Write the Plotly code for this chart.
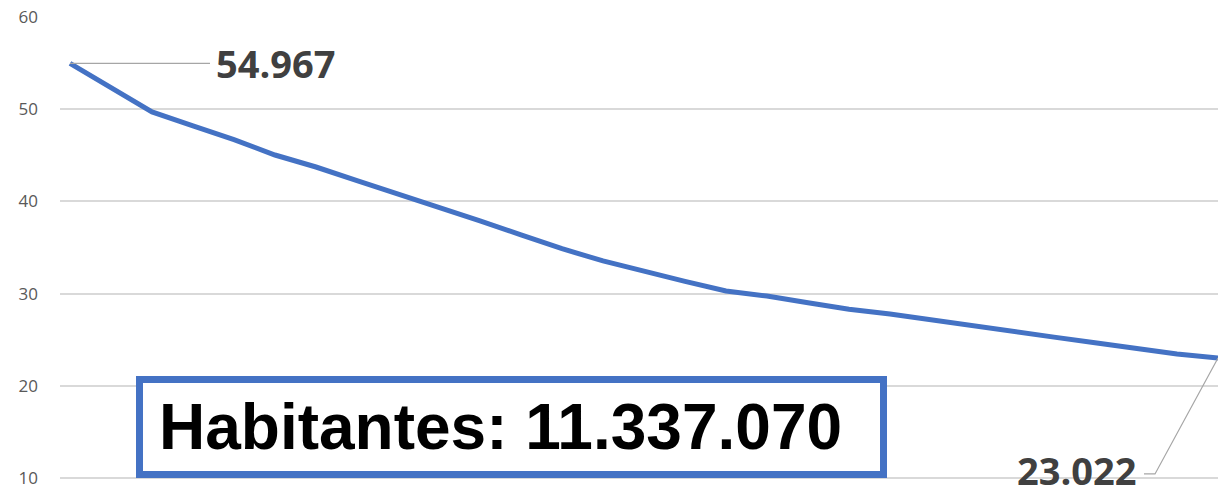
import plotly.graph_objects as go

# Data
periods = list(range(1, 30))
values = [54.967, 52.34, 49.70, 48.19, 46.69, 45.03, 43.73, 42.25, 40.83, 39.36,
          37.90, 36.36, 34.87, 33.54, 32.40, 31.33, 30.28, 29.73, 29.01, 28.30,
          27.79, 27.13, 26.49, 25.88, 25.28, 24.67, 24.07, 23.46, 23.022]
first_label = "54.967"
last_label = "23.022"
box_text = "Habitantes: 11.337.070"
y_ticks = [10, 20, 30, 40, 50, 60]

W, H = 1218, 495
ML, MR, MT, MB = 60, 0, 17, 3
pw = W - ML - MR
ph = H - MT - MB
px_per_unit = 461 / 50
ylo = 60 - ph / px_per_unit
xstep = 41
x_lo = periods[0] - (70 - ML) / xstep
x_hi = periods[-1]


def px(xp):
    return (xp - ML) / pw


def py(yp):
    return (H - MB - yp) / ph


fig = go.Figure()
fig.add_trace(go.Scatter(
    x=periods, y=values, mode="lines",
    line=dict(color="#4472C4", width=5),
    hoverinfo="skip", showlegend=False,
))

# leader lines anchored at first/last points
fig.add_shape(type="path", xref="x", yref="y", xsizemode="pixel", ysizemode="pixel",
              xanchor=periods[0], yanchor=values[0],
              path="M0,0 L140,0", line=dict(color="#A6A6A6", width=1.2))
fig.add_shape(type="path", xref="x", yref="y", xsizemode="pixel", ysizemode="pixel",
              xanchor=periods[-1], yanchor=values[-1],
              path="M0,0 L-63,-116 L-74,-116", line=dict(color="#A6A6A6", width=1.2))

fig.add_annotation(x=periods[0], y=values[0], xref="x", yref="y", text=first_label,
                   showarrow=False, xanchor="left", yanchor="middle", xshift=144, yshift=0,
                   font=dict(family="Open Sans", size=38, color="#404040", weight="bold"))
fig.add_annotation(x=periods[-1], y=values[-1], xref="x", yref="y", text=last_label,
                   showarrow=False, xanchor="right", yanchor="middle", xshift=-80, yshift=-112,
                   font=dict(family="Open Sans", size=38, color="#404040", weight="bold"))

# text box
fig.add_shape(type="rect", xref="paper", yref="paper",
              x0=px(139.5), x1=px(883.5), y0=py(474.5), y1=py(379.5),
              line=dict(color="#4472C4", width=7), fillcolor="white", layer="above")
fig.add_annotation(x=px(157), y=py(427), xref="paper", yref="paper", text=box_text,
                   showarrow=False, xanchor="left", yanchor="middle",
                   font=dict(family="Liberation Sans", size=64, color="black", weight="bold"))

fig.update_layout(
    width=W, height=H,
    margin=dict(l=ML, r=MR, t=MT, b=MB),
    plot_bgcolor="white", paper_bgcolor="white",
    showlegend=False,
    xaxis=dict(range=[x_lo, x_hi], showgrid=False, zeroline=False, showticklabels=False,
               showline=False, ticks=""),
    yaxis=dict(range=[ylo, 60], tickvals=y_ticks, showgrid=True, gridcolor="#D9D9D9",
               gridwidth=1.5, zeroline=False, showline=False, ticks="",
               ticklabelstandoff=21,
               tickfont=dict(family="Open Sans", size=17, color="#595959")),
)

fig.write_html("out.html", config={"displayModeBar": False},
               post_script="document.body.style.margin='0';document.body.style.padding='0';")
